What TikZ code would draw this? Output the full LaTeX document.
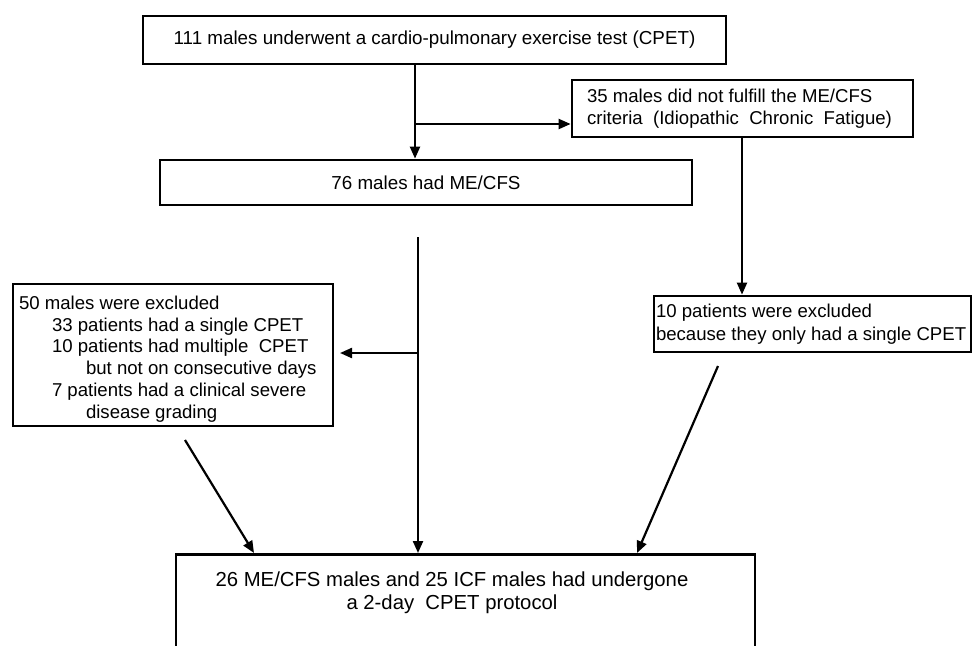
\documentclass[tikz,border=0pt]{standalone}
\usepackage{fontspec}
\setmainfont{Liberation Sans}
\usetikzlibrary{arrows.meta}
\tikzset{
  box/.style={draw=black, line width=2.8pt, rectangle, inner sep=0pt,
    font=\fontsize{18.6}{21.8}\selectfont},
  conn/.style={line width=2.2pt, draw=black},
  arr/.style={conn, -{Triangle[length=12pt,width=10pt]}},
}
\begin{document}
\begin{tikzpicture}[x=1pt,y=-1pt]
\useasboundingbox (0,0) rectangle (973,645);
\clip (0,0) rectangle (973,645);
\fill[white] (0,0) rectangle (973,645);

\node[box, minimum width=583pt, minimum height=48pt, font=\fontsize{18.8}{22}\selectfont] (top) at (434.5,40)
  {111 males underwent a cardio-pulmonary exercise test (CPET)};
\node[box, minimum width=341pt, minimum height=57pt] (icf) at (742.5,108.5)
  {\parbox{311pt}{\raggedright\mbox{35 males did not fulfill the ME/CFS}\\\mbox{criteria\ \ (Idiopathic\ \ Chronic\ \ Fatigue)}}};
\node[box, minimum width=532pt, minimum height=45pt, font=\fontsize{18.8}{22}\selectfont] (me) at (426,182.5)
  {76 males had ME/CFS};
\node[box, minimum width=320pt, minimum height=142pt] (exl) at (173,355)
  {\parbox{308pt}{\raggedright\vspace*{8pt}50 males were excluded\\
   \hspace*{33pt}33 patients had a single CPET\\
   \hspace*{33pt}10 patients had multiple\ \ CPET\\
   \hspace*{67pt}but not on consecutive days\\
   \hspace*{33pt}7 patients had a clinical severe\\
   \hspace*{67pt}disease grading}};
\node[box, minimum width=317pt, minimum height=56pt, font=\fontsize{18.6}{23.5}\selectfont] (exr) at (812.5,324)
  {\parbox{313pt}{\raggedright\mbox{10 patients were excluded}\\\mbox{because they only had a single CPET}}};
\node[box, anchor=north, minimum width=579pt, font=\fontsize{20.3}{23.5}\selectfont] (bot) at (465.5,553)
  {\parbox[t][120pt][t]{540pt}{\centering\vspace{17pt}26 ME/CFS males and 25 ICF males had undergone\\a 2-day\ \ CPET protocol}\hspace*{27pt}};

\coordinate (t1) at (415,64);
\coordinate (j1) at (415,124);
\draw[arr] (t1) -- (me.north -| t1);
\draw[arr] (j1) -- (icf.west |- j1);
\draw[arr] (icf.south -| 742,0) -- (exr.north -| 742,0);

\coordinate (m1) at (418,237);
\coordinate (j2) at (418,353);
\draw[arr] (m1) -- (bot.north -| m1);
\draw[arr] (j2) -- (340,353);

\coordinate (l1) at (185,440);
\coordinate (l2) at (254,553);
\draw[arr] (l1) -- (l2);
\coordinate (r1) at (718,366);
\coordinate (r2) at (637,553);
\draw[arr] (r1) -- (r2);
\end{tikzpicture}
\end{document}
